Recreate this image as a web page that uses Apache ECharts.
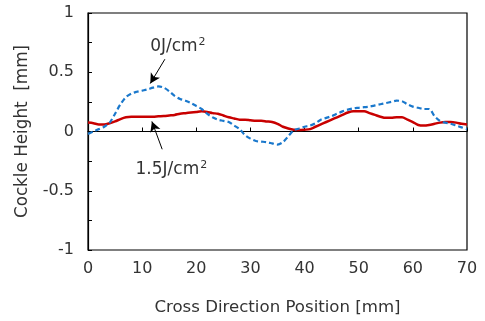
<!DOCTYPE html>
<html>
<head>
<meta charset="utf-8">
<script src="https://cdn.jsdelivr.net/npm/echarts@6/dist/echarts.min.js"></script>
<style>
  html, body { margin: 0; padding: 0; background: #fff; }
  #chart { width: 485px; height: 321px; }
</style>
</head>
<body>
<div id="chart"></div>
<script>
// Cross direction position [mm]
const positions = [0,1,2,3,4,5,6,7,8,9,10,11,12,13,14,15,16,17,18,19,20,21,22,23,24,25,26,27,28,29,30,31,32,33,34,35,36,37,38,39,40,41,42,43,44,45,46,47,48,49,50,51,52,53,54,55,56,57,58,59,60,61,62,63,64,65,66,67,68,69,70];

// Cockle height [mm], untreated (0 J/cm2)
const height0J = [-0.02,0.0,0.02,0.04,0.075,0.15,0.23,0.29,0.32,0.335,0.345,0.355,0.37,0.38,0.37,0.34,0.30,0.275,0.26,0.24,0.215,0.19,0.15,0.12,0.10,0.09,0.08,0.05,0.02,-0.03,-0.06,-0.08,-0.085,-0.09,-0.10,-0.11,-0.09,-0.04,0.01,0.025,0.04,0.05,0.07,0.10,0.115,0.13,0.15,0.17,0.185,0.195,0.20,0.205,0.21,0.22,0.23,0.24,0.25,0.26,0.255,0.23,0.21,0.20,0.19,0.19,0.13,0.09,0.075,0.065,0.05,0.035,0.02];

// Cockle height [mm], treated (1.5 J/cm2)
const height15J = [0.075,0.07,0.06,0.06,0.07,0.085,0.105,0.12,0.125,0.125,0.125,0.125,0.125,0.128,0.13,0.135,0.14,0.15,0.155,0.16,0.165,0.17,0.165,0.155,0.15,0.135,0.12,0.11,0.10,0.10,0.095,0.09,0.09,0.085,0.08,0.065,0.04,0.025,0.015,0.012,0.015,0.02,0.04,0.06,0.08,0.10,0.12,0.14,0.16,0.17,0.17,0.17,0.155,0.14,0.125,0.115,0.115,0.12,0.12,0.10,0.08,0.055,0.05,0.055,0.065,0.075,0.08,0.08,0.075,0.065,0.06];

const xTicks = [0, 70, 10];      // min, max, step
const yTicks = [-1, 1, 0.25];    // min, max, step
const yLabelStep = 0.5;

const FONT = '"DejaVu Sans", "Noto Sans", sans-serif';
const TEXT = '#333';

const pair = (xs, ys) => xs.map((x, i) => [x, ys[i]]);

const labelRich = {
  t: { fontFamily: FONT, fontSize: 17, color: TEXT },
  s: { fontFamily: FONT, fontSize: 11, color: TEXT, verticalAlign: 'top', padding: [0, 0, 9, 1] }
};

const chart = echarts.init(document.getElementById('chart'), null, { renderer: 'canvas' });

chart.setOption({
  animation: false,
  backgroundColor: '#fff',
  grid: {
    left: 88, right: 18, top: 13, bottom: 68,
    show: true, borderColor: '#000', borderWidth: 1.2, backgroundColor: 'transparent'
  },
  xAxis: {
    type: 'value',
    min: xTicks[0], max: xTicks[1], interval: xTicks[2],
    name: 'Cross Direction Position [mm]',
    nameLocation: 'middle', nameGap: 49,
    nameTextStyle: { fontFamily: FONT, fontSize: 16.6, color: TEXT },
    axisLine: { show: true, lineStyle: { color: '#000', width: 1.2 } },
    axisTick: { show: true, inside: true, length: 4, lineStyle: { color: '#000' } },
    axisLabel: { fontFamily: FONT, fontSize: 16, color: TEXT, margin: 11 },
    splitLine: { show: false }
  },
  yAxis: {
    type: 'value',
    min: yTicks[0], max: yTicks[1], interval: yTicks[2],
    name: 'Cockle Height  [mm]',
    nameLocation: 'middle', nameGap: 57, nameRotate: 90,
    nameTextStyle: { fontFamily: FONT, fontSize: 16.8, color: TEXT },
    axisLine: { show: true, lineStyle: { color: '#000', width: 1.2 } },
    axisTick: { show: true, inside: true, length: 4, lineStyle: { color: '#000' } },
    axisLabel: {
      fontFamily: FONT, fontSize: 16, color: TEXT, margin: 14,
      formatter: v => (Math.abs(v / yLabelStep - Math.round(v / yLabelStep)) < 1e-9 ? String(v) : '')
    },
    splitLine: { show: false }
  },
  series: [
    {
      name: '0J/cm2',
      type: 'line',
      data: pair(positions, height0J),
      showSymbol: false,
      smooth: 0.3,
      lineStyle: { color: '#1a78cc', width: 2.2, type: [5, 3] },
      z: 3,
      markLine: {
        silent: true, animation: false,
        symbol: ['none', 'arrow'], symbolSize: [8, 10],
        label: { show: false },
        lineStyle: { color: '#000', width: 1, type: 'solid' },
        data: [[{ coord: [14.2, 0.61] }, { coord: [11.5, 0.405] }]]
      },
      markPoint: {
        silent: true, symbol: 'circle', symbolSize: 0,
        label: {
          show: true, position: 'inside',
          formatter: '{t|0J/cm}{s|2}', rich: labelRich
        },
        data: [{ coord: [16.6, 0.72] }]
      }
    },
    {
      name: '1.5J/cm2',
      type: 'line',
      data: pair(positions, height15J),
      showSymbol: false,
      smooth: 0.3,
      lineStyle: { color: '#c80000', width: 2.5 },
      z: 2,
      markLine: {
        silent: true, animation: false,
        symbol: ['none', 'arrow'], symbolSize: [8, 10],
        label: { show: false },
        lineStyle: { color: '#000', width: 1, type: 'solid' },
        data: [[{ coord: [13.7, -0.15] }, { coord: [11.8, 0.085] }]]
      },
      markPoint: {
        silent: true, symbol: 'circle', symbolSize: 0,
        label: {
          show: true, position: 'inside',
          formatter: '{t|1.5J/cm}{s|2}', rich: labelRich
        },
        data: [{ coord: [15.4, -0.325] }]
      }
    }
  ]
});
</script>
</body>
</html>
